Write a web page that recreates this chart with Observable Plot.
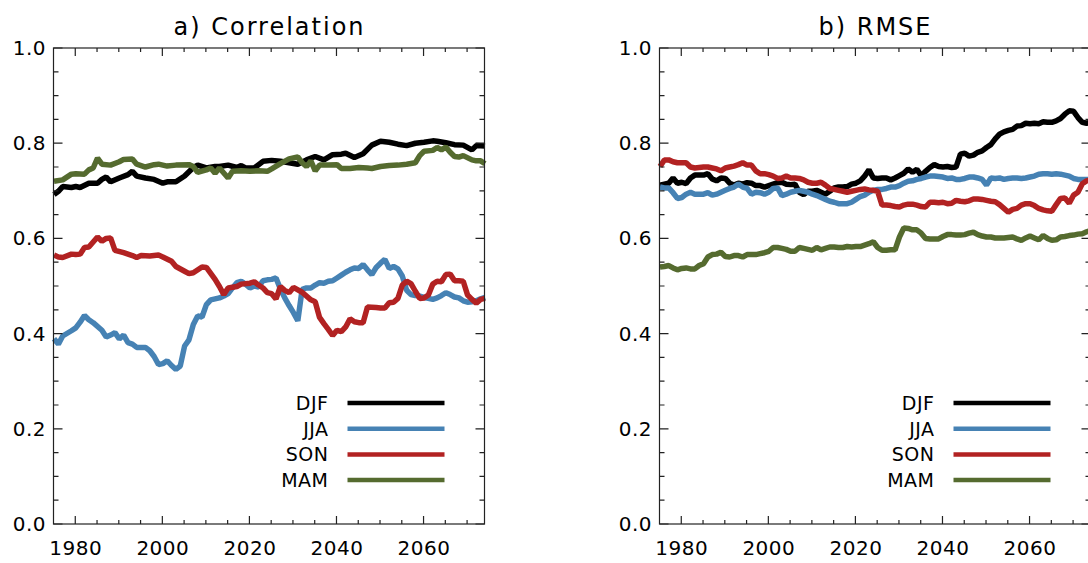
<!DOCTYPE html>
<html><head><meta charset="utf-8">
<script src="https://cdn.jsdelivr.net/npm/d3@7"></script>
<script src="https://cdn.jsdelivr.net/npm/@observablehq/plot@0.6"></script>
<style>
html,body{margin:0;padding:0;background:#fff;overflow:hidden;}
#wrap{position:relative;width:1088px;height:563px;overflow:hidden;background:#fff;}
#wrap svg{position:absolute;top:0;display:block;}
</style></head><body><div id="wrap"></div>
<script>
// ---- categories, tick labels ----
const seasons = ["DJF", "JJA", "SON", "MAM"];
const seasonColors = ["#000000", "#4682b4", "#b22222", "#556b2f"];
const panelTitles = ["a) Correlation", "b) RMSE"];
const xMajorTicks = [1980, 2000, 2020, 2040, 2060];
const xMinorTicks = [1985, 1990, 1995, 2005, 2010, 2015, 2025, 2030, 2035, 2045, 2050, 2055, 2065, 2070];
const yMajorTicks = [0.0, 0.2, 0.4, 0.6, 0.8, 1.0];
const yMinorTicks = [0.05, 0.1, 0.15, 0.25, 0.3, 0.35, 0.45, 0.5, 0.55, 0.65, 0.7, 0.75, 0.85, 0.9, 0.95];

// ---- a) Correlation: [year, value] ----
const corrDJF = [[1975,0.693],[1976,0.70],[1977,0.71],[1979,0.708],[1980,0.71],[1981,0.708],[1983,0.717],[1985,0.717],[1986,0.725],[1987,0.73],[1988,0.72],[1990,0.728],[1992,0.735],[1993,0.742],[1994,0.732],[1996,0.728],[1998,0.725],[2000,0.717],[2001,0.72],[2003,0.72],[2005,0.732],[2007,0.75],[2008,0.755],[2010,0.749],[2012,0.752],[2013,0.752],[2015,0.755],[2017,0.75],[2018,0.754],[2019,0.749],[2021,0.749],[2023,0.763],[2025,0.765],[2027,0.763],[2029,0.76],[2031,0.757],[2033,0.766],[2035,0.773],[2037,0.766],[2039,0.777],[2041,0.778],[2042,0.78],[2044,0.771],[2046,0.779],[2048,0.797],[2050,0.805],[2052,0.803],[2054,0.799],[2056,0.796],[2058,0.801],[2060,0.803],[2062,0.806],[2063,0.805],[2065,0.802],[2067,0.798],[2069,0.797],[2071,0.787],[2072,0.796],[2074,0.795]];
const corrJJA = [[1975,0.39],[1976,0.379],[1977,0.396],[1979,0.407],[1980,0.413],[1981,0.425],[1982,0.439],[1983,0.43],[1984,0.424],[1986,0.408],[1987,0.394],[1988,0.398],[1989,0.403],[1990,0.39],[1991,0.398],[1992,0.382],[1993,0.379],[1994,0.372],[1996,0.372],[1997,0.365],[1998,0.353],[1999,0.336],[2000,0.338],[2001,0.344],[2002,0.334],[2003,0.326],[2004,0.333],[2005,0.375],[2006,0.388],[2007,0.42],[2008,0.438],[2009,0.436],[2010,0.462],[2011,0.472],[2012,0.474],[2013,0.476],[2014,0.48],[2015,0.485],[2016,0.497],[2017,0.508],[2018,0.511],[2019,0.505],[2020,0.497],[2021,0.501],[2022,0.499],[2023,0.512],[2024,0.514],[2025,0.515],[2026,0.518],[2027,0.495],[2028,0.476],[2029,0.46],[2030,0.445],[2031,0.428],[2032,0.494],[2033,0.497],[2034,0.497],[2035,0.503],[2036,0.508],[2037,0.507],[2038,0.511],[2039,0.512],[2040,0.518],[2041,0.524],[2042,0.53],[2043,0.535],[2044,0.539],[2045,0.538],[2046,0.546],[2047,0.535],[2048,0.525],[2049,0.54],[2050,0.549],[2051,0.557],[2052,0.538],[2053,0.542],[2054,0.537],[2055,0.522],[2056,0.492],[2057,0.483],[2058,0.481],[2059,0.48],[2060,0.477],[2061,0.475],[2062,0.473],[2063,0.476],[2064,0.481],[2065,0.487],[2066,0.483],[2067,0.478],[2068,0.476],[2069,0.47],[2070,0.467],[2071,0.468],[2072,0.47],[2073,0.474],[2074,0.477]];
const corrSON = [[1975,0.566],[1976,0.562],[1977,0.561],[1979,0.568],[1980,0.567],[1981,0.568],[1982,0.582],[1983,0.583],[1985,0.604],[1986,0.595],[1987,0.601],[1988,0.602],[1989,0.576],[1991,0.571],[1993,0.565],[1994,0.561],[1995,0.565],[1997,0.564],[1999,0.566],[2000,0.562],[2002,0.553],[2003,0.542],[2005,0.532],[2006,0.527],[2007,0.529],[2009,0.541],[2010,0.54],[2012,0.515],[2013,0.5],[2014,0.483],[2015,0.497],[2017,0.5],[2018,0.505],[2020,0.507],[2021,0.51],[2022,0.503],[2023,0.497],[2024,0.487],[2025,0.485],[2026,0.474],[2027,0.5],[2028,0.492],[2029,0.487],[2030,0.498],[2032,0.488],[2034,0.472],[2035,0.468],[2036,0.435],[2037,0.422],[2038,0.41],[2039,0.397],[2040,0.408],[2041,0.405],[2042,0.415],[2043,0.432],[2044,0.426],[2045,0.424],[2046,0.424],[2047,0.457],[2049,0.456],[2050,0.455],[2051,0.455],[2052,0.466],[2053,0.467],[2054,0.475],[2055,0.503],[2056,0.511],[2057,0.506],[2058,0.49],[2059,0.475],[2060,0.476],[2061,0.482],[2062,0.505],[2063,0.511],[2064,0.51],[2065,0.525],[2066,0.526],[2067,0.512],[2068,0.512],[2069,0.511],[2070,0.482],[2071,0.473],[2072,0.465],[2073,0.473],[2074,0.475]];
const corrMAM = [[1975,0.721],[1977,0.724],[1979,0.736],[1980,0.737],[1982,0.736],[1983,0.745],[1984,0.749],[1985,0.77],[1986,0.757],[1988,0.755],[1990,0.762],[1991,0.767],[1993,0.768],[1994,0.757],[1996,0.751],[1998,0.756],[1999,0.757],[2001,0.753],[2003,0.755],[2006,0.756],[2007,0.752],[2008,0.74],[2010,0.745],[2011,0.749],[2012,0.738],[2013,0.749],[2015,0.728],[2016,0.742],[2018,0.743],[2020,0.742],[2022,0.743],[2024,0.742],[2025,0.747],[2027,0.758],[2029,0.768],[2031,0.772],[2032,0.76],[2033,0.752],[2034,0.764],[2035,0.743],[2036,0.755],[2038,0.755],[2040,0.756],[2041,0.748],[2043,0.748],[2045,0.75],[2047,0.749],[2048,0.748],[2050,0.752],[2052,0.754],[2054,0.755],[2056,0.757],[2058,0.76],[2059,0.775],[2060,0.784],[2062,0.786],[2063,0.792],[2064,0.787],[2065,0.793],[2066,0.782],[2067,0.773],[2068,0.772],[2069,0.775],[2071,0.766],[2072,0.764],[2073,0.764],[2074,0.758]];

// ---- b) RMSE: [year, value] ----
const rmseDJF = [[1975,0.713],[1976,0.715],[1977,0.717],[1978,0.728],[1979,0.717],[1980,0.719],[1981,0.716],[1982,0.728],[1983,0.734],[1985,0.734],[1986,0.737],[1987,0.726],[1988,0.722],[1989,0.728],[1990,0.727],[1991,0.717],[1992,0.713],[1993,0.717],[1994,0.715],[1995,0.718],[1996,0.717],[1997,0.712],[1998,0.712],[1999,0.709],[2000,0.712],[2001,0.715],[2002,0.718],[2003,0.719],[2004,0.715],[2005,0.714],[2006,0.715],[2007,0.698],[2008,0.693],[2009,0.7],[2010,0.7],[2011,0.702],[2012,0.698],[2013,0.694],[2014,0.7],[2015,0.707],[2016,0.709],[2017,0.709],[2018,0.71],[2019,0.715],[2020,0.717],[2021,0.722],[2022,0.732],[2023,0.745],[2024,0.728],[2025,0.727],[2026,0.728],[2027,0.728],[2028,0.724],[2029,0.728],[2030,0.733],[2031,0.738],[2032,0.747],[2033,0.74],[2034,0.746],[2035,0.733],[2036,0.742],[2037,0.75],[2038,0.756],[2039,0.752],[2040,0.751],[2041,0.752],[2042,0.75],[2043,0.751],[2044,0.778],[2045,0.78],[2046,0.774],[2047,0.776],[2048,0.782],[2049,0.785],[2050,0.792],[2051,0.798],[2052,0.81],[2053,0.82],[2054,0.825],[2055,0.828],[2056,0.83],[2057,0.837],[2058,0.838],[2059,0.843],[2060,0.842],[2061,0.843],[2062,0.842],[2063,0.846],[2064,0.845],[2065,0.845],[2066,0.848],[2067,0.853],[2068,0.862],[2069,0.869],[2070,0.868],[2071,0.855],[2072,0.845],[2073,0.843],[2074,0.845]];
const rmseJJA = [[1975,0.709],[1976,0.707],[1977,0.707],[1978,0.697],[1979,0.685],[1980,0.687],[1981,0.694],[1982,0.698],[1983,0.694],[1985,0.694],[1986,0.697],[1987,0.692],[1988,0.694],[1989,0.698],[1990,0.702],[1991,0.706],[1992,0.709],[1993,0.715],[1994,0.709],[1995,0.706],[1996,0.694],[1997,0.698],[1998,0.697],[1999,0.694],[2000,0.698],[2001,0.706],[2002,0.707],[2003,0.691],[2004,0.694],[2005,0.698],[2006,0.7],[2007,0.702],[2008,0.7],[2009,0.698],[2010,0.694],[2011,0.691],[2012,0.687],[2013,0.683],[2014,0.679],[2015,0.677],[2016,0.674],[2017,0.674],[2018,0.674],[2019,0.677],[2020,0.683],[2021,0.689],[2022,0.692],[2023,0.698],[2024,0.702],[2025,0.704],[2026,0.704],[2027,0.706],[2028,0.709],[2029,0.709],[2030,0.712],[2031,0.717],[2032,0.721],[2033,0.722],[2034,0.725],[2035,0.727],[2036,0.73],[2037,0.732],[2038,0.732],[2039,0.731],[2040,0.73],[2041,0.727],[2042,0.728],[2043,0.725],[2044,0.725],[2045,0.727],[2046,0.73],[2047,0.73],[2048,0.728],[2049,0.725],[2050,0.713],[2051,0.728],[2052,0.727],[2053,0.728],[2054,0.725],[2055,0.727],[2056,0.728],[2057,0.728],[2058,0.727],[2059,0.728],[2060,0.73],[2061,0.732],[2062,0.736],[2063,0.737],[2064,0.737],[2065,0.736],[2066,0.737],[2067,0.736],[2068,0.734],[2069,0.732],[2070,0.727],[2071,0.725],[2072,0.725],[2073,0.725],[2074,0.725]];
const rmseSON = [[1975,0.752],[1976,0.766],[1977,0.766],[1978,0.762],[1979,0.76],[1980,0.76],[1981,0.76],[1982,0.751],[1983,0.749],[1985,0.751],[1986,0.751],[1987,0.749],[1988,0.747],[1989,0.743],[1990,0.749],[1991,0.751],[1992,0.753],[1993,0.756],[1994,0.76],[1995,0.755],[1996,0.755],[1997,0.743],[1998,0.737],[1999,0.737],[2000,0.735],[2001,0.732],[2002,0.727],[2003,0.728],[2004,0.732],[2005,0.728],[2006,0.728],[2007,0.727],[2008,0.724],[2009,0.719],[2010,0.717],[2011,0.717],[2012,0.719],[2013,0.713],[2014,0.706],[2015,0.704],[2016,0.702],[2017,0.7],[2018,0.698],[2019,0.7],[2020,0.702],[2021,0.704],[2022,0.705],[2023,0.703],[2024,0.702],[2025,0.7],[2026,0.671],[2027,0.671],[2028,0.67],[2029,0.668],[2030,0.667],[2031,0.671],[2032,0.673],[2033,0.673],[2034,0.671],[2035,0.668],[2036,0.667],[2037,0.677],[2038,0.677],[2039,0.676],[2040,0.677],[2041,0.674],[2042,0.675],[2043,0.681],[2044,0.679],[2045,0.678],[2046,0.68],[2047,0.684],[2048,0.684],[2049,0.683],[2050,0.681],[2051,0.679],[2052,0.678],[2053,0.672],[2054,0.664],[2055,0.656],[2056,0.662],[2057,0.664],[2058,0.671],[2059,0.674],[2060,0.674],[2061,0.67],[2062,0.664],[2063,0.661],[2064,0.659],[2065,0.658],[2066,0.672],[2067,0.685],[2068,0.686],[2069,0.675],[2070,0.692],[2071,0.698],[2072,0.716],[2073,0.722],[2074,0.724]];
const rmseMAM = [[1975,0.541],[1976,0.542],[1977,0.544],[1978,0.539],[1979,0.535],[1980,0.538],[1981,0.539],[1982,0.537],[1983,0.537],[1984,0.544],[1985,0.548],[1986,0.562],[1987,0.567],[1988,0.568],[1989,0.572],[1990,0.563],[1991,0.562],[1992,0.565],[1993,0.565],[1994,0.562],[1995,0.567],[1996,0.567],[1997,0.567],[1998,0.569],[1999,0.571],[2000,0.574],[2001,0.582],[2002,0.582],[2003,0.58],[2004,0.578],[2005,0.574],[2006,0.574],[2007,0.582],[2008,0.58],[2009,0.578],[2010,0.576],[2011,0.582],[2012,0.577],[2013,0.58],[2014,0.583],[2015,0.583],[2016,0.582],[2017,0.582],[2018,0.584],[2019,0.583],[2020,0.584],[2021,0.584],[2022,0.587],[2023,0.59],[2024,0.594],[2025,0.582],[2026,0.576],[2027,0.576],[2028,0.577],[2029,0.577],[2030,0.604],[2031,0.623],[2032,0.622],[2033,0.619],[2034,0.619],[2035,0.612],[2036,0.601],[2037,0.6],[2038,0.6],[2039,0.6],[2040,0.605],[2041,0.609],[2042,0.609],[2043,0.608],[2044,0.608],[2045,0.609],[2046,0.612],[2047,0.614],[2048,0.609],[2049,0.606],[2050,0.604],[2051,0.604],[2052,0.602],[2053,0.602],[2054,0.602],[2055,0.603],[2056,0.604],[2057,0.6],[2058,0.597],[2059,0.602],[2060,0.606],[2061,0.602],[2062,0.598],[2063,0.607],[2064,0.601],[2065,0.597],[2066,0.598],[2067,0.604],[2068,0.605],[2069,0.607],[2070,0.608],[2071,0.61],[2072,0.611],[2073,0.615],[2074,0.618]];

const FONT = "'DejaVu Sans', 'Liberation Sans', sans-serif";

function frameMark(index, scales, values, dims) {
  const {x, y} = scales;
  const x0 = dims.marginLeft, x1 = dims.width - dims.marginRight;
  const y0 = dims.marginTop, y1 = dims.height - dims.marginBottom;
  const g = d3.create("svg:g").attr("fill", "none").attr("stroke", "#222").attr("stroke-width", 1.2);
  g.append("rect").attr("x", x0).attr("y", y0).attr("width", x1 - x0).attr("height", y1 - y0);
  const p = [];
  for (const t of xMajorTicks) { const px = x(t); p.push(`M${px},${y1}v-8M${px},${y0}v8`); }
  for (const t of xMinorTicks) { const px = x(t); p.push(`M${px},${y1}v-4M${px},${y0}v4`); }
  for (const t of yMajorTicks) { const py = y(t); p.push(`M${x0},${py}h9M${x1},${py}h-9`); }
  for (const t of yMinorTicks) { const py = y(t); p.push(`M${x0},${py}h5M${x1},${py}h-5`); }
  g.append("path").attr("d", p.join(""));
  return g.node();
}

function legendMark(index, scales, values, dims) {
  const x0 = dims.marginLeft;
  const yb = dims.height - dims.marginBottom;
  const g = d3.create("svg:g");
  seasons.forEach((s, i) => {
    const yy = yb - 121 + i * 25.7;
    g.append("text").attr("x", x0 + 275).attr("y", yy).attr("dy", "0.36em")
      .attr("text-anchor", "end").attr("font-size", 19).attr("fill", "black")
      .attr("font-family", FONT).attr("letter-spacing", "0.5px").text(s);
    g.append("line").attr("x1", x0 + 294).attr("x2", x0 + 391).attr("y1", yy).attr("y2", yy)
      .attr("stroke", seasonColors[i]).attr("stroke-width", 4.5);
  });
  return g.node();
}

function panel(title, series, left, width, ml, mr) {
  const rows = seasons.flatMap((s, i) => series[i].map(([year, value]) => ({season: s, year, value})));
  const svg = Plot.plot({
    width, height: 563,
    marginLeft: ml, marginRight: mr, marginTop: 48, marginBottom: 39,
    style: {fontFamily: FONT, fontSize: "20px", background: "white", color: "black", overflow: "visible"},
    x: {domain: [1975, 2074]},
    y: {domain: [0, 1]},
    color: {domain: seasons, range: seasonColors},
    marks: [
      Plot.axisX({ticks: xMajorTicks, tickSize: 0, tickPadding: 16, tickFormat: "d", label: null}),
      Plot.axisY({ticks: yMajorTicks, tickSize: 0, tickPadding: 8, tickFormat: ".1f", label: null}),
      Plot.line(rows, {x: "year", y: "value", z: "season", stroke: "season", strokeWidth: 5.5, strokeLinejoin: "miter", strokeLinecap: "butt"}),
      frameMark,
      legendMark,
      Plot.text([title], {frameAnchor: "top", lineAnchor: "middle", dy: -21, text: d => d, fontSize: 24, fill: "black"})
    ]
  });
  svg.querySelectorAll('g[aria-label="x-axis tick label"] text, g[aria-label="y-axis tick label"] text').forEach(t => {
    t.style.fontSize = "20px";
    t.setAttribute("letter-spacing", "0.5px");
  });
  svg.querySelectorAll("text").forEach(t => {
    if (t.textContent === title) { t.setAttribute("letter-spacing", "2px"); t.style.letterSpacing = "2px"; }
  });
  svg.style.left = left + "px";
  return svg;
}

const wrap = document.getElementById("wrap");
wrap.appendChild(panel(panelTitles[0], [corrDJF, corrJJA, corrSON, corrMAM], 0, 600, 53.5, 115.5));
wrap.appendChild(panel(panelTitles[1], [rmseDJF, rmseJJA, rmseSON, rmseMAM], 600, 500, 59.5, 9.5));
</script></body></html>
